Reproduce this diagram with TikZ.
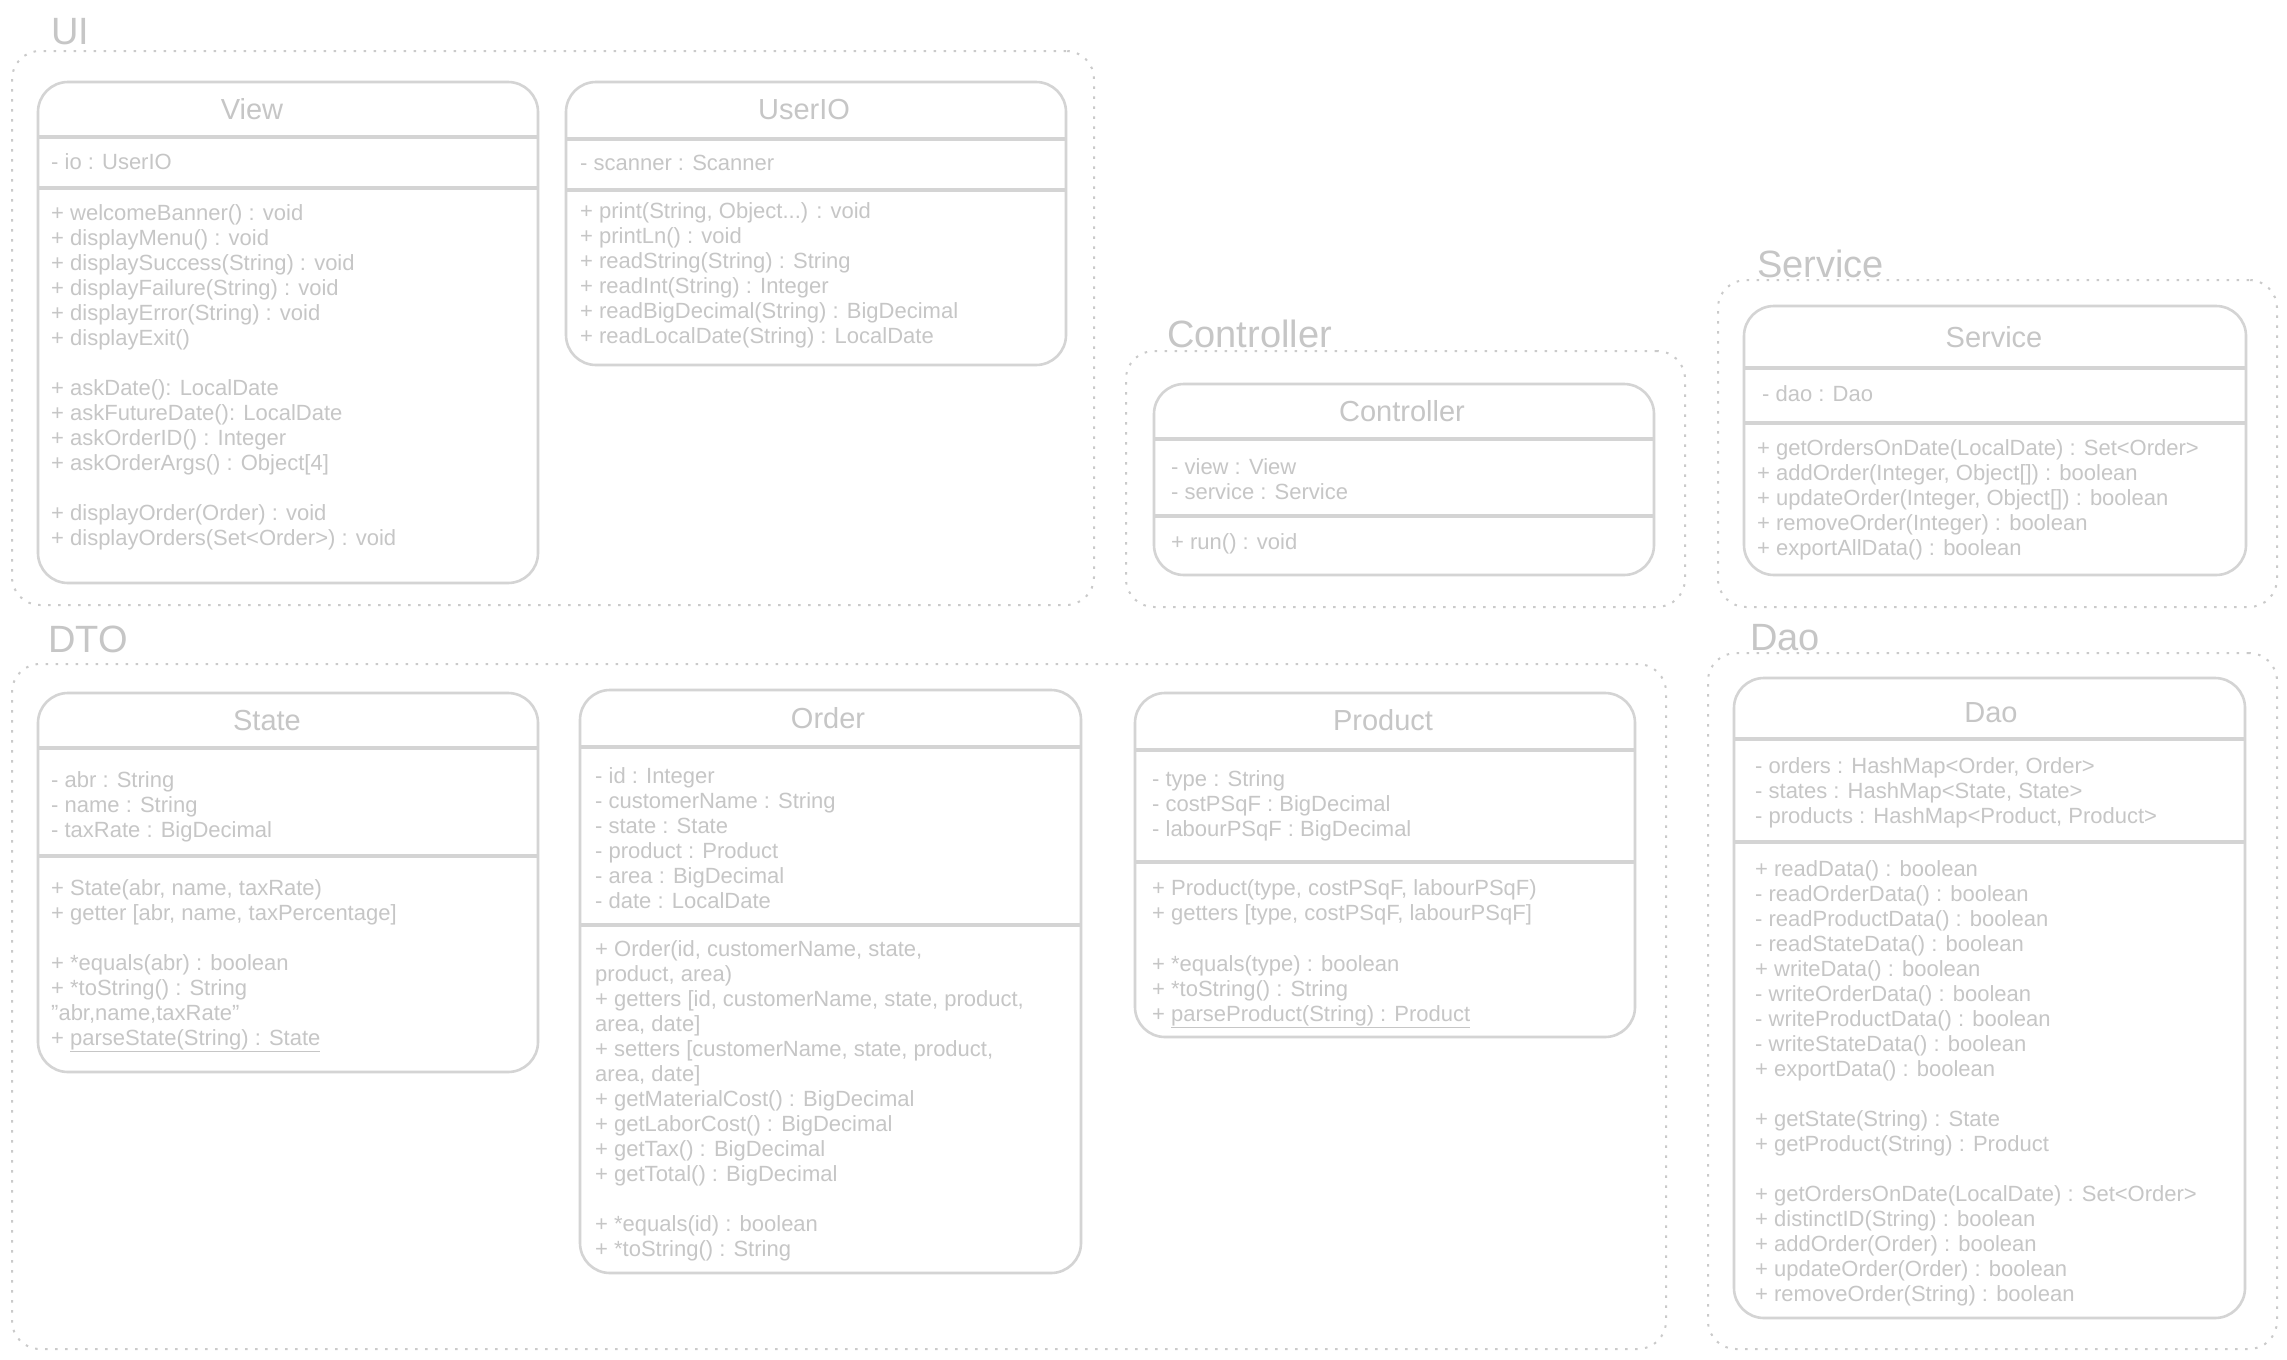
\documentclass[tikz,border=0pt]{standalone}
\usepackage{fontspec}
\setmainfont{Liberation Sans}
\definecolor{ink}{RGB}{198,198,198}
\definecolor{edge}{RGB}{212,212,212}
\definecolor{dotc}{RGB}{202,202,202}

% one class box: name, x1, y1, x2, y2, first separator, second separator
\newcommand\classbox[7]{%
  \node[classbox, minimum width={#4-#2}, minimum height={#5-#3}]
    (#1) at ({(#2+#4)/2},{(#3+#5)/2}) {};
  \draw[sepline] (#1.west |- 0,#6) -- (#1.east |- 0,#6);
  \draw[sepline] (#1.west |- 0,#7) -- (#1.east |- 0,#7);
}
% dotted package frame: name, x1, y1, x2, y2
\newcommand\pkgframe[5]{%
  \node[pkgbox, minimum width={#4-#2}, minimum height={#5-#3}]
    (#1) at ({(#2+#4)/2},{(#3+#5)/2}) {};
}
% rows of member text: name prefix, x, first baseline, items
\newcommand\classrows[4]{%
  \foreach \t [count=\i from 0] in {#4} {
    \node[txt] (#1-\i) at (#2,{#3+25*\i}) {\t};
  }
}

\begin{document}
\begin{tikzpicture}[x=1pt,y=-1pt,
  classbox/.style={draw=edge, line width=2.6pt, rounded corners=30pt,
    inner sep=0pt, outer sep=0pt},
  pkgbox/.style={draw=dotc, line width=2pt, dash pattern=on 2.5pt off 7.5pt,
    rounded corners=28pt, inner sep=0pt, outer sep=0pt},
  sepline/.style={draw=edge, line width=3.4pt},
  txt/.style={anchor=base west, inner sep=0pt, text=ink,
    font=\fontsize{22}{25}\selectfont},
  title/.style={anchor=base, inner sep=0pt, text=ink,
    font=\fontsize{29}{32}\selectfont},
  pkglabel/.style={anchor=base west, inner sep=0pt, text=ink,
    font=\fontsize{38}{40}\selectfont}]

\fill[white] (0,0) rectangle (2287,1360);
\useasboundingbox (0,0) rectangle (2287,1360);

% ---------- package frames ----------
\pkgframe{ui}{12}{51}{1094}{605}
\pkgframe{ctrlpkg}{1126}{351}{1685}{607}
\pkgframe{servpkg}{1718}{280}{2277}{607}
\pkgframe{dto}{12}{664}{1666}{1349}
\pkgframe{daopkg}{1708}{653}{2277}{1349}

\node[pkglabel] (uilabel) at (51,44) {UI};
\node[pkglabel] (ctrllabel) at (1167,347) {Controller};
\node[pkglabel] (servlabel) at (1757,277) {Service};
\node[pkglabel] (dtolabel) at (48,652) {DTO};
\node[pkglabel] (daolabel) at (1750,650) {Dao};

% ---------- UI ----------
\classbox{view}{38}{82}{538}{583}{137}{188}
\node[title] (viewtitle) at (252,119) {View};
\classrows{viewa}{51}{169}{{- io : UserIO}}
\classrows{viewm}{51}{220}{{+ welcomeBanner() : void},{+ displayMenu() : void},
  {+ displaySuccess(String) : void},{+ displayFailure(String) : void},
  {+ displayError(String) : void},{+ displayExit()}}
\classrows{viewn}{51}{395}{{+ askDate(): LocalDate},{+ askFutureDate(): LocalDate},
  {+ askOrderID() : Integer},{+ askOrderArgs() : Object[4]}}
\classrows{viewo}{51}{520}{{+ displayOrder(Order) : void},
  {+ displayOrders(Set<Order>) : void}}

\classbox{userio}{566}{82}{1066}{365}{139}{190}
\node[title] (uiotitle) at (804,119) {UserIO};
\classrows{uioa}{580}{170}{{- scanner : Scanner}}
\classrows{uiom}{580}{218}{{+ print(String, Object.{}.{}.) : void},{+ printLn() : void},
  {+ readString(String) : String},{+ readInt(String) : Integer},
  {+ readBigDecimal(String) : BigDecimal},{+ readLocalDate(String) : LocalDate}}

% ---------- Controller ----------
\classbox{controller}{1154}{384}{1654}{575}{439}{516}
\node[title] (ctrltitle) at (1402,421) {Controller};
\classrows{ctrla}{1171}{474}{{- view : View},{- service : Service}}
\classrows{ctrlm}{1171}{549}{{+ run() : void}}

% ---------- Service ----------
\classbox{service}{1744}{306}{2246}{575}{368}{423}
\node[title] (servtitle) at (1994,347) {Service};
\classrows{serva}{1762}{401}{{- dao : Dao}}
\classrows{servm}{1757}{455}{{+ getOrdersOnDate(LocalDate) : Set<Order>},
  {+ addOrder(Integer, Object[]) : boolean},{+ updateOrder(Integer, Object[]) : boolean},
  {+ removeOrder(Integer) : boolean},{+ exportAllData() : boolean}}

% ---------- DTO ----------
\classbox{state}{38}{693}{538}{1072}{748}{856}
\node[title] (statetitle) at (267,730) {State};
\classrows{statea}{51}{787}{{- abr : String},{- name : String},{- taxRate : BigDecimal}}
\classrows{statem}{51}{895}{{+ State(abr, name, taxRate)},{+ getter [abr, name, taxPercentage]}}
\classrows{staten}{51}{970}{{+ *equals(abr) : boolean},{+ *toString() : String},
  {\symbol{34}abr,name,taxRate\symbol{34}},{+ \underline{parseState(String) : State}}}

\classbox{order}{580}{690}{1081}{1273}{747}{925}
\node[title] (ordertitle) at (828,728) {Order};
\classrows{ordera}{595}{783}{{- id : Integer},{- customerName : String},{- state : State},
  {- product : Product},{- area : BigDecimal},{- date : LocalDate}}
\classrows{orderm}{595}{956}{{+ Order(id, customerName, state,},{product, area)},
  {+ getters [id, customerName, state, product,},{area, date]},
  {+ setters [customerName, state, product,},{area, date]},
  {+ getMaterialCost() : BigDecimal},{+ getLaborCost() : BigDecimal},
  {+ getTax() : BigDecimal},{+ getTotal() : BigDecimal}}
\classrows{ordern}{595}{1231}{{+ *equals(id) : boolean},{+ *toString() : String}}

\classbox{product}{1135}{693}{1635}{1037}{750}{862}
\node[title] (prodtitle) at (1383,730) {Product};
\classrows{proda}{1152}{786}{{- type : String},{- costPSqF : BigDecimal},
  {- labourPSqF : BigDecimal}}
\classrows{prodm}{1152}{895}{{+ Product(type, costPSqF, labourPSqF)},
  {+ getters [type, costPSqF, labourPSqF]}}
\classrows{prodn}{1152}{971}{{+ *equals(type) : boolean},{+ *toString() : String},
  {+ \underline{parseProduct(String) : Product}}}

% ---------- Dao ----------
\classbox{dao}{1734}{678}{2245}{1318}{739}{842}
\node[title] (daotitle) at (1991,722) {Dao};
\classrows{daoa}{1755}{773}{{- orders : HashMap<Order, Order>},
  {- states : HashMap<State, State>},{- products : HashMap<Product, Product>}}
\classrows{daom}{1755}{876}{{+ readData() : boolean},{- readOrderData() : boolean},
  {- readProductData() : boolean},{- readStateData() : boolean},
  {+ writeData() : boolean},{- writeOrderData() : boolean},
  {- writeProductData() : boolean},{- writeStateData() : boolean},
  {+ exportData() : boolean}}
\classrows{daon}{1755}{1126}{{+ getState(String) : State},{+ getProduct(String) : Product}}
\classrows{daoo}{1755}{1201}{{+ getOrdersOnDate(LocalDate) : Set<Order>},
  {+ distinctID(String) : boolean},{+ addOrder(Order) : boolean},
  {+ updateOrder(Order) : boolean},{+ removeOrder(String) : boolean}}

\end{tikzpicture}
\end{document}
